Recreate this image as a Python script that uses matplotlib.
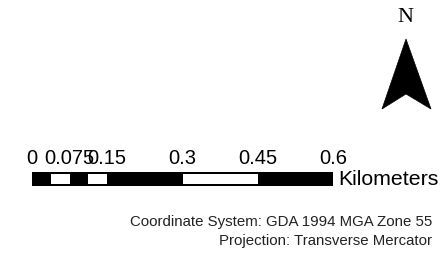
import matplotlib.pyplot as plt
from matplotlib.patches import Rectangle, Polygon

# scale bar segments (km) and fill
seg_start = [0, 0.0375, 0.075, 0.1125, 0.15, 0.3, 0.45]
seg_end = [0.0375, 0.075, 0.1125, 0.15, 0.3, 0.45, 0.6]
seg_fill = ['black', 'white', 'black', 'white', 'black', 'white', 'black']
tick_vals = [0, 0.075, 0.15, 0.3, 0.45, 0.6]
tick_labels = ['0', '0.075', '0.15', '0.3', '0.45', '0.6']
unit = 'Kilometers'
note_lines = ['Coordinate System: GDA 1994 MGA Zone 55', 'Projection: Transverse Mercator']

W, H = 445, 258
fig = plt.figure(figsize=(W / 100, H / 100), dpi=100)

# page axes in pixel coords
page = fig.add_axes([0, 0, 1, 1])
page.set_xlim(0, W)
page.set_ylim(H, 0)
page.axis('off')

# north arrow
page.text(405.5, 17.5, 'N', family='Liberation Serif', fontsize=16, ha='center', va='center')
page.add_patch(Polygon([(406, 39), (431, 109), (406, 94), (382, 109)], closed=True,
                       facecolor='black', edgecolor='black', lw=0.5))

# scale bar axes in km
x0, x1 = 32, 333
bar = fig.add_axes([x0 / W, 1 - 186 / H, (x1 - x0) / W, 14 / H])
bar.set_xlim(0, 0.6)
bar.set_ylim(0, 1)
bar.axis('off')
bar.add_patch(Rectangle((0, 0), 0.6, 1, facecolor='black', edgecolor='none'))
for s, e, c in zip(seg_start, seg_end, seg_fill):
    if c == 'white':
        bar.add_patch(Rectangle((s, 0.12), e - s, 0.76, facecolor='white', edgecolor='none'))
for v, lab in zip(tick_vals, tick_labels):
    bar.text(v, 1.3, lab, fontsize=14.5, family='Liberation Sans', ha='center', va='bottom')
bar.text(0.61, 0.45, unit, fontsize=15.3, family='Liberation Sans', ha='left', va='center')

# notes
for i, line in enumerate(note_lines):
    page.text(432, 222 + i * 19, line, fontsize=10.8,
              family='Liberation Sans', ha='right', va='center', color='#222222')

fig.savefig('out.png', dpi=100)
